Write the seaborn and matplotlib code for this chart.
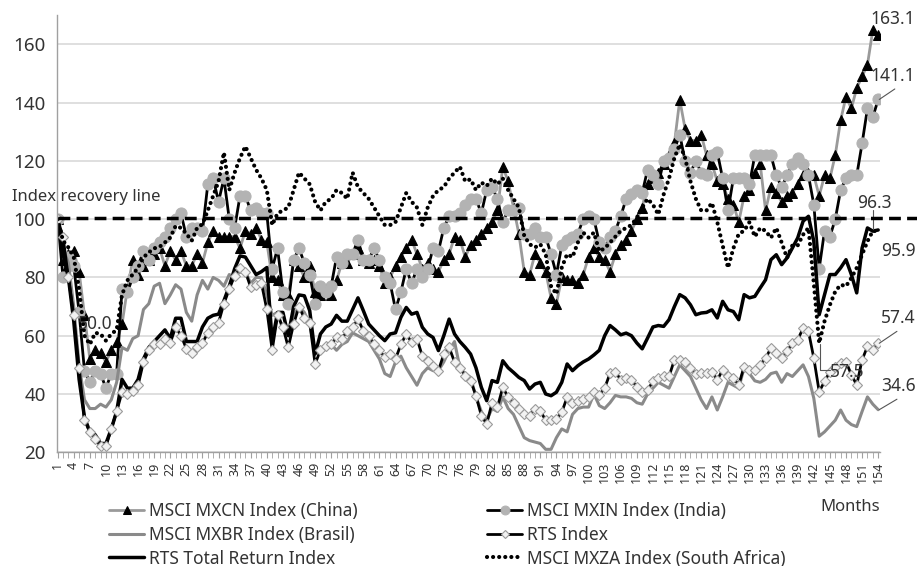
import numpy as np
import pandas as pd
import matplotlib
matplotlib.use("Agg")
import matplotlib.pyplot as plt
import seaborn as sns

months = list(range(1, 155))

# MSCI MXCN Index (China)
china = [100, 86, 88, 89, 82, 67, 52, 55, 54, 51, 55, 58, 64, 76, 86, 81, 84, 86, 88, 90,
         84, 89, 86, 89, 84, 84, 88, 85, 92, 96, 94, 94, 94, 94, 90, 96, 95, 97, 93, 92,
         80, 79, 74, 74, 86, 84, 80, 84, 75, 74, 76, 74, 79, 85, 85, 88, 90, 86, 85, 86,
         84, 78, 80, 84, 87, 90, 93, 88, 83, 85, 83, 82, 86, 88, 94, 93, 87, 91, 93, 95,
         97, 99, 103, 118, 113, 104, 95, 82, 81, 88, 85, 82, 73, 71, 80, 79, 79, 78, 81, 87,
         90, 87, 86, 82, 88, 91, 93, 96, 100, 104, 112, 114, 116, 119, 122, 126, 141, 131, 127, 127,
         129, 122, 119, 113, 112, 107, 105, 99, 108, 110, 116, 119, 103, 111, 109, 106, 108, 109, 112, 115,
         116, 115, 108, 115, 114, 122, 134, 142, 138, 145, 149, 153, 165, 163.1]

# MSCI MXIN Index (India)
india = [100, 80, 87, 84, 68, 48, 44, 48, 47, 42, 47, 47, 76, 75, 80, 84, 89, 86, 90, 92,
         94, 97, 100, 102, 94, 97, 97, 96, 112, 114, 106, 114, 100, 97, 108, 108, 103, 104, 102, 102,
         83, 90, 75, 71, 86, 90, 85, 81, 71, 77, 75, 77, 87, 85, 88, 88, 93, 86, 86, 90,
         86, 80, 78, 69, 75, 83, 78, 83, 80, 83, 90, 89, 97, 101, 101, 102, 105, 107, 107, 102,
         110, 111, 107, 99, 103, 103, 104, 95, 95, 97, 94, 94, 88, 81, 91, 93, 94, 95, 100, 101,
         100, 92, 90, 94, 96, 101, 107, 108.5, 110, 109, 117, 115, 112, 120, 121, 124, 129, 120, 116, 120,
         116, 115, 122, 123, 114, 103, 114, 114, 114, 112, 122, 122, 122, 122, 115, 111, 115, 119, 121, 119,
         115, 105, 83, 96, 94, 100, 110, 114, 115, 115, 126, 138, 135, 141.1]

# MSCI MXBR Index (Brasil)
brasil = [100, 90, 85, 70, 50, 38, 35, 35, 36.5, 35.5, 38, 44, 56, 55, 59, 60, 69, 71, 77, 78,
          71, 74, 77.5, 76, 68, 65, 74, 79, 76, 80, 79, 77, 81, 80, 82, 82, 78, 80, 80, 74,
          67, 68, 62, 60, 67, 70, 68, 64, 54, 55, 57, 57, 55, 57, 58, 61, 60, 59, 58, 55,
          52, 47, 46, 51, 53, 49, 46, 43, 47, 49, 48, 48, 51, 55, 58, 49, 47, 45.7, 39, 34,
          31, 35, 34, 39, 35, 33, 29, 25, 24, 23.5, 23, 21, 21, 25, 28, 27, 33, 35, 35.5, 35.5,
          40, 36, 35, 37, 39.5, 39, 39, 38.5, 37, 36.5, 40, 42, 44, 43, 42, 46, 50, 48, 46, 42,
          38, 35, 39, 34.5, 39, 44, 43, 42, 49, 47, 44.5, 44, 45, 47, 47.5, 44, 47, 46, 48, 50,
          46, 38.5, 25.5, 27, 29, 31, 34.5, 31, 29.5, 28.8, 34, 39, 36.5, 34.6]

# RTS Index
rts = [100, 94, 80, 67, 49, 31, 27, 24.6, 22, 22, 28, 34, 40.6, 40, 41, 43, 51, 55, 57, 57,
       59, 57.5, 63, 60, 55.6, 54, 56, 57.5, 61, 63, 64.5, 71, 76, 80.6, 83.4, 82, 76.6, 77.5, 78, 69,
       55, 67, 63, 56, 64, 70, 66, 64.5, 50.3, 55, 56.5, 57, 59.4, 59, 61.7, 63, 65.7, 61.7, 60, 57,
       55, 52.6, 53.7, 52, 57, 60.6, 57.7, 59, 53, 51.4, 49.7, 48, 53.7, 56, 51, 49, 46.3, 44.6, 39.4, 32.6,
       29.7, 37, 35.4, 42.3, 38.9, 37, 34.9, 33.1, 32.6, 34.9, 34.3, 30.9, 30.9, 31.4, 33.7, 38.9, 37, 37.7, 38.3, 38.9,
       40.6, 39.7, 42, 47.1, 47.7, 44.8, 45.4, 44.8, 42.5, 40.8, 41.4, 44.3, 45.4, 46, 46, 51.7, 51.7, 51.1, 48.9, 46.8,
       47.1, 47.1, 47.7, 44.8, 48.3, 46, 45.4, 43.1, 49.4, 48.3, 48.3, 50, 52.3, 55.7, 54, 52.3, 54.6, 57.5, 58.6, 62.6,
       61.5, 52.3, 40.8, 44.3, 47.7, 49.4, 50.6, 51.1, 46.6, 43.1, 51.7, 56.3, 55.2, 57.4]

# RTS Total Return Index
rts_tr = [100, 88, 80, 65, 45, 32, 27, 26, 23, 23, 28, 34, 45, 42, 42, 45, 52, 56, 58, 60,
          62, 59, 66, 66, 58, 58, 58, 63, 66, 67, 67.4, 72, 77, 83, 87.4, 87, 84, 81, 82, 83.4,
          58, 68, 68, 60, 70, 74, 73.7, 68.6, 53.7, 60.6, 63, 64, 67, 65, 65, 69, 73, 68.6, 64, 62,
          60, 58.3, 60.6, 61, 66.3, 69.7, 67.4, 68, 62.9, 60.6, 59.4, 54.9, 60, 65.7, 60.6, 58, 56, 53.7, 49, 42.3,
          37.7, 44.6, 44, 51.4, 49, 47.4, 45.7, 44.6, 41.7, 43.4, 44, 40, 39.4, 40.6, 44, 50.3, 48, 49.7, 51, 52,
          53.4, 55, 60, 63.5, 62, 60.3, 60.9, 60, 57.5, 55.5, 59.2, 63, 63.5, 63.2, 65.5, 70, 74.1, 73, 70.6, 67.2,
          67.8, 68, 68.9, 66.1, 71.8, 68.9, 68.3, 65.5, 74.1, 73, 73.5, 76.4, 79.2, 86.1, 87.8, 84.4, 86.7, 90.1, 93.6, 99.3,
          101, 92.4, 67.2, 74.1, 81, 81, 83.3, 86.1, 81, 74.7, 90.1, 97, 95.9, 96.3]

# MSCI MXZA Index (South Africa)
safrica = [100, 92.6, 90.3, 87, 76, 60, 57, 61, 60.6, 58.3, 60.6, 62, 74, 79, 81, 83.4, 86.9, 88.6, 90, 90.5,
           92, 93.7, 97.7, 97, 95, 92.6, 97, 98.3, 103, 108, 113, 122.9, 110, 116, 121, 125, 121, 117, 114, 110,
           98, 102, 103, 104, 110, 116, 114, 112, 106, 103, 106, 107, 110, 109, 107, 116, 111, 109, 107, 104,
           101, 98, 98, 99, 104, 109, 106, 104, 98, 104, 108, 110, 111, 114, 116, 118, 113, 113.7, 110, 112.6,
           111.4, 114, 112, 114, 110, 107, 104, 94.3, 91.4, 90.3, 91.4, 88, 77, 74.3, 83.4, 88, 87, 92, 95.4, 93.7,
           95.4, 89, 90, 92, 94, 96, 97, 98, 100.5, 104, 107, 105, 101.6, 108.5, 114, 121, 125.7, 121, 113, 107,
           103, 103, 105.6, 99, 91, 83.3, 90, 95, 96, 99, 94, 97, 96, 93.6, 97, 92, 86.7, 91, 91, 94.7,
           97, 78, 57.5, 65, 70.6, 75.2, 77.5, 77, 79.8, 83.3, 87.8, 92.4, 96, 95.9]

sns.set_style("white")
plt.rcParams['font.family'] = ['Noto Sans', 'DejaVu Sans']

fig = plt.figure(figsize=(9.17, 5.66), dpi=100)
ax = fig.add_axes([0.062, 0.201, 0.898, 0.772])

txt = '#333333'

sns.lineplot(x=months, y=china, ax=ax, color='#9a9a9a', lw=2, marker='^', markersize=7,
             markerfacecolor='black', markeredgecolor='black', label='MSCI MXCN Index (China)')
sns.lineplot(x=months, y=india, ax=ax, color='black', lw=2, marker='o', markersize=8,
             markerfacecolor='#b3b3b3', markeredgecolor='#b3b3b3', label='MSCI MXIN Index (India)')
sns.lineplot(x=months, y=brasil, ax=ax, color='#8a8a8a', lw=2.2, label='MSCI MXBR Index (Brasil)')
sns.lineplot(x=months, y=rts_tr, ax=ax, color='black', lw=2.5, label='RTS Total Return Index')
sns.lineplot(x=months, y=rts, ax=ax, color='black', lw=2, marker='D', markersize=5.5,
             markerfacecolor='#f2f2f2', markeredgecolor='#9a9a9a', markeredgewidth=0.8, label='RTS Index')
sns.lineplot(x=months, y=safrica, ax=ax, color='black', lw=3, linestyle=(0, (0.01, 1.45)),
             dash_capstyle='round', label='MSCI MXZA Index (South Africa)')

# recovery line
ax.plot([1, 161.5], [100.5, 100.5], color='black', lw=2.5, linestyle=(0, (3.4, 1.8)),
        clip_on=False, zorder=5)
fig.text(0.013, 1 - 197 / 566, 'Index recovery line', fontsize=12, color=txt, va='center')

ax.set_xlim(0.85, 154.4)
ax.set_ylim(20, 170)
ax.set_yticks(range(20, 161, 20))
ax.set_xticks(range(1, 155, 3))
ax.set_xticks(months, minor=True)
ax.set_xticklabels([str(m) for m in range(1, 155, 3)], rotation=90, fontsize=9, color=txt)
ax.tick_params(axis='y', labelsize=13.5, colors=txt, length=4, color='#a0a0a0', pad=4)
ax.tick_params(axis='x', which='both', length=4, color='#a0a0a0', pad=3, bottom=True)
ax.grid(axis='y', color='#d9d9d9', lw=1.2)
ax.grid(axis='x', visible=False)
for s in ['top', 'right']:
    ax.spines[s].set_visible(False)
for s in ['left', 'bottom']:
    ax.spines[s].set_color('#a0a0a0')
    ax.spines[s].set_linewidth(1)
ax.set_xlabel('')
ax.set_ylabel('')
fig.text(0.96, 1 - 507 / 566, 'Months', fontsize=12, color=txt, ha='right', va='center')

# value labels
fs = 12.5
ax.text(4.7, 63.9, '50.0', fontsize=fs, color=txt, va='center', zorder=2.5)
ax.text(152.6, 168.8, '163.1', fontsize=fs, color=txt, va='center', clip_on=False)
ax.text(152.6, 149.2, '141.1', fontsize=fs, color=txt, va='center', clip_on=False)
ax.plot([157.1, 154.2], [144.7, 141.1], color='#555555', lw=0.8, clip_on=False)
ax.text(150.1, 105.5, '96.3', fontsize=fs, color=txt, va='center', clip_on=False)
ax.plot([153, 153], [103, 96.6], color='#555555', lw=0.8, clip_on=False)
ax.text(154.6, 89, '95.9', fontsize=fs, color=txt, va='center', clip_on=False)
ax.text(154.6, 66, '57.4', fontsize=fs, color=txt, va='center', clip_on=False)
ax.plot([157.5, 154.2], [61.5, 57.4], color='#555555', lw=0.8, clip_on=False)
ax.text(154.6, 42.6, '34.6', fontsize=fs, color=txt, va='center', clip_on=False)
ax.plot([157.5, 154.2], [38.2, 34.6], color='#555555', lw=0.8, clip_on=False)
ax.text(145, 47.5, '57.5', fontsize=fs, color=txt, va='center', zorder=2.5)
ax.plot([143.2, 143.2, 145], [57.3, 48.2, 48.2], color='#555555', lw=0.8)

# legend
h, l = ax.get_legend_handles_labels()
order = ['MSCI MXCN Index (China)', 'MSCI MXBR Index (Brasil)', 'RTS Total Return Index',
         'MSCI MXIN Index (India)', 'RTS Index', 'MSCI MXZA Index (South Africa)']
hd = dict(zip(l, h))
ax.get_legend().remove()
fig.legend([hd[k] for k in order], order, loc='upper left', bbox_to_anchor=(0.108, 1 - 492 / 566),
           ncol=2, frameon=False, fontsize=12.5, handlelength=2.0, handletextpad=0.3, numpoints=1,
           markerscale=0.8, columnspacing=7.45, labelspacing=0.32, labelcolor=txt, borderpad=0.1)

fig.savefig('out.png', dpi=100)
